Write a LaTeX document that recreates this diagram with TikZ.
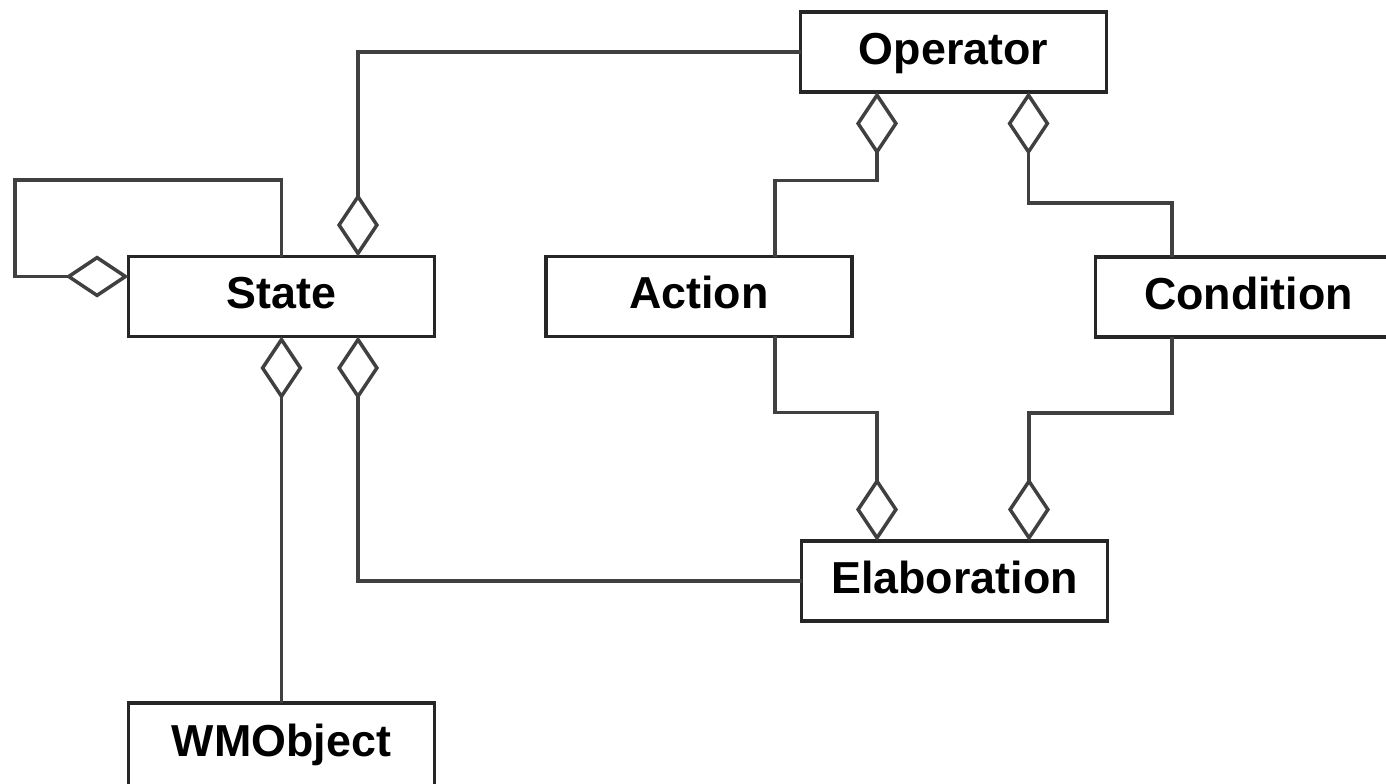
\documentclass[tikz,border=0pt]{standalone}
\usepackage{fontspec}
\setmainfont{Liberation Sans}
\usetikzlibrary{arrows.meta,calc}
\begin{document}
\begin{tikzpicture}[x=0.02cm,y=-0.02cm,
  cls/.style={draw=black!85, line width=2pt, fill=white, minimum width=6.12cm, minimum height=1.6cm,
    inner sep=0pt, outer sep=0pt, text height=19pt, text depth=5pt, font=\fontsize{25.5}{30}\selectfont\bfseries},
  agg/.style={draw=black!75, line width=2pt, -{Diamond[open, length=1.26cm, width=0.84cm]}},
  ]
\clip (0,0) rectangle (1386,784);
\fill[white] (0,0) rectangle (1386,784);
\node[cls] (op) at (953.5,52) {Operator};
\node[cls] (st) at (281.5,296.5) {State};
\node[cls] (ac) at (699,296.5) {Action};
\node[cls] (co) at (1248.5,297) {Condition};
\node[cls] (el) at (954.5,581) {Elaboration};
\node[cls, anchor=north, text height=1.08cm, text depth=1cm, minimum height=0pt] (wm) at (281.5,703) {WMObject};
\coordinate (stN2) at ($(st.north)+(76.5,0)$);
\coordinate (stS2) at ($(st.south)+(76.5,0)$);
\coordinate (stW) at ($(st.north west)+(0,20)$);
\coordinate (opL) at ($(op.south)+(-76.5,0)$);
\coordinate (opR) at ($(op.south)+(75,0)$);
\coordinate (acN) at ($(ac.north)+(76,0)$);
\coordinate (acS) at ($(ac.south)+(76,0)$);
\coordinate (coN) at ($(co.north)+(-76.5,0)$);
\coordinate (coS) at ($(co.south)+(-76.5,0)$);
\coordinate (elL) at ($(el.north)+(-77.5,0)$);
\coordinate (elR) at ($(el.north)+(74.5,0)$);
\coordinate (loopc) at (15,180);
\draw[agg] (st.north) |- (loopc) |- (stW);
\draw[agg] (op.west) -| (stN2);
\draw[agg] (wm.north) -- (st.south);
\draw[agg] (el.west) -| (stS2);
\draw[agg] (acN) -- ++(0,-76) -| (opL);
\draw[agg] (coN) -- ++(0,-54) -| (opR);
\draw[agg] (acS) -- ++(0,76) -| (elL);
\draw[agg] (coS) -- ++(0,76) -| (elR);
\end{tikzpicture}
\end{document}
